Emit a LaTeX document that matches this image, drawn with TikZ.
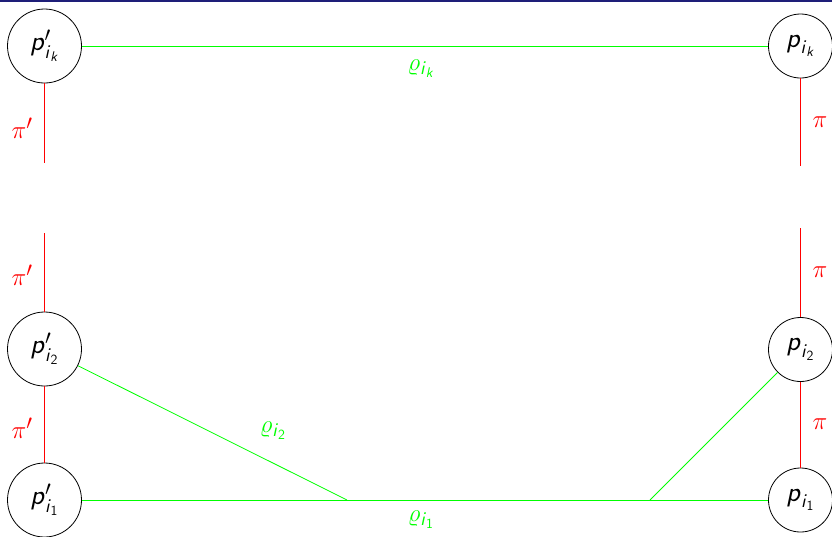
\documentclass[tikz,border=0pt]{standalone}
\usepackage{amsmath}
\newcommand\svi[1]{\textsf{\textit{#1}}}
\newcommand\sdg[1]{\textsf{#1}}
\definecolor{topblue}{RGB}{30,30,120}
\definecolor{lred}{RGB}{255,0,0}
\definecolor{lgreen}{RGB}{0,255,0}
\begin{document}
\begin{tikzpicture}[x=1pt,y=-1pt,
  font=\fontsize{28}{32}\selectfont,
  pnodeL/.style={circle,draw,line width=0.8pt,inner sep=0pt,minimum size=74pt},
  pnodeR/.style={circle,draw,line width=0.8pt,inner sep=0pt,minimum size=64pt},
  rline/.style={draw=lred,line width=1pt},
  gline/.style={draw=lgreen,line width=0.8pt},
  rlab/.style={text=lred,inner sep=0pt},
  glab/.style={text=lgreen,inner sep=0pt}]
\useasboundingbox (0,0) rectangle (832,536);
\fill[topblue] (0,0) rectangle (832,1.5);
% nodes
\node[pnodeL] (lk) at (44.5,46) {$\svi{p}'_{\svi{i}_{\svi{k}}}$};
\node[pnodeL] (l2) at (44.5,349) {$\svi{p}'_{\svi{i}_{\sdg{2}}}$};
\node[pnodeL] (l1) at (44.5,500) {$\svi{p}'_{\svi{i}_{\sdg{1}}}$};
\node[pnodeR] (rk) at (800.5,46) {$\svi{p}_{\svi{i}_{\svi{k}}}$};
\node[pnodeR] (r2) at (800.5,349.5) {$\svi{p}_{\svi{i}_{\sdg{2}}}$};
\node[pnodeR] (r1) at (800.5,500) {$\svi{p}_{\svi{i}_{\sdg{1}}}$};
% free ends
\coordinate (lka) at (44.5,163);
\coordinate (l2a) at (44.5,233);
\coordinate (rka) at (800.5,166);
\coordinate (r2a) at (800.5,228);
\coordinate (m1) at (347,500);
\coordinate (m2) at (650,500);
% red lines
\path[rline] (lk) -- (lka);
\path[rline] (l2a) -- (l2);
\path[rline] (l2) -- (l1);
\path[rline] (rk) -- (rka);
\path[rline] (r2a) -- (r2);
\path[rline] (r2) -- (r1);
% green lines
\path[gline] (lk) -- (rk);
\path[gline] (l1) -- (r1);
\path[gline] (l2) -- (m1);
\path[gline] (r2) -- (m2);
% labels
\node[rlab] (t1) at (22,128) {$\pi'$};
\node[rlab] (t2) at (22,275) {$\pi'$};
\node[rlab] (t3) at (22,428) {$\pi'$};
\node[rlab] (t4) at (820,122) {$\pi$};
\node[rlab] (t5) at (820,272) {$\pi$};
\node[rlab] (t6) at (820,424) {$\pi$};
\node[glab] (gk) at (421,69) {$\varrho_{\svi{i}_{\svi{k}}}$};
\node[glab] (g2) at (273,431) {$\varrho_{\svi{i}_{\sdg{2}}}$};
\node[glab] (g1) at (421,520) {$\varrho_{\svi{i}_{\sdg{1}}}$};
\end{tikzpicture}
\end{document}
